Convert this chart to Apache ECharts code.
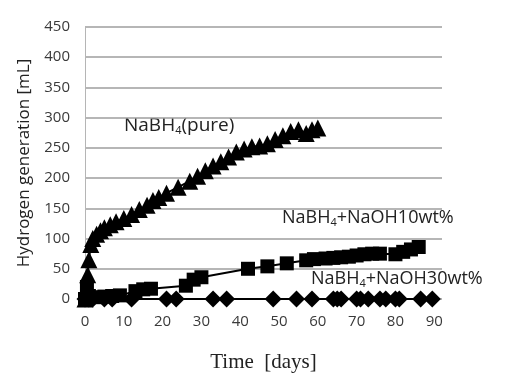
<!DOCTYPE html>
<html>
<head>
<meta charset="utf-8">
<script src="https://cdn.jsdelivr.net/npm/echarts@6/dist/echarts.min.js"></script>
<style>
  html, body { margin: 0; padding: 0; background: #fff; }
  #chart { width: 505px; height: 378px; }
</style>
</head>
<body>
<div id="chart"></div>
<script>
// Hydrogen released from stored NaBH4 samples over time
const pureDays = [0, 0.3, 0.7, 1, 1.5, 2, 3, 4, 5, 6.5, 8, 10, 12, 14, 16, 17.5, 19, 21, 24, 27, 29, 31, 33, 35, 37, 39, 41, 43, 45, 47, 49, 51, 53, 55, 57, 58.5, 60];
const pureMl   = [0, 15, 40, 65, 90, 100, 107, 113, 118, 123, 128, 133, 140, 148, 155, 163, 168, 175, 185, 195, 203, 212, 220, 227, 235, 243, 248, 252, 253, 257, 264, 270, 277, 280, 274, 280, 283];

const naoh10Days = [0, 0.5, 1, 3, 5, 7, 9, 13, 15, 17, 26, 28, 30, 42, 47, 52, 57, 59, 62, 64, 66, 68, 70, 72, 74, 76, 80, 82, 84, 86];
const naoh10Ml   = [0, 20, 5, 3, 4, 5, 6, 13, 16, 17, 22, 32, 36, 50, 54, 59, 64, 66, 67, 68, 69, 70, 72, 74, 75, 75, 74, 78, 82, 86];

const naoh30Days = [0, 1, 2, 5, 7, 12, 21, 23.5, 33, 36.5, 48.5, 54.5, 58.5, 64, 65, 66, 70, 71, 73, 76, 77.5, 80, 81, 86.5, 89.5];
const naoh30Ml   = [0, 0, 0, 0, 0, 0, 0, 0, 0, 0, 0, 0, 0, 0, 0, 0, 0, 0, 0, 0, 0, 0, 0, 0, 0];

const xTicks = { min: 0, max: 92, interval: 10, lastLabel: 90 };
const yTicks = { min: 0, max: 450, interval: 50 };

const zip = (xs, ys) => xs.map((x, i) => [x, ys[i]]);

const chart = echarts.init(document.getElementById('chart'), null, { renderer: 'canvas' });

const labelFont = '"Open Sans", Lato, sans-serif';
const serifFont = '"Liberation Serif", "DejaVu Serif", serif';

function lineSeries(name, data, symbol, size) {
  return {
    name, type: 'line', data, symbol, symbolSize: size,
    lineStyle: { color: '#000', width: 2 },
    itemStyle: { color: '#000' },
    showAllSymbol: true,
    animation: false
  };
}

function richLabel(head, tail, size) {
  return {
    text: '{m|' + head + '}{s|4}{m|' + tail + '}',
    rich: {
      m: { fontFamily: labelFont, fontSize: size, fill: '#222' },
      s: { fontFamily: labelFont, fontSize: Math.round(size * 0.6), fill: '#222', padding: [Math.round(size * 0.55), 0, 0, 0] }
    }
  };
}

chart.setOption({
  animation: false,
  grid: { left: 85, right: 63, top: 27, bottom: 75 },
  xAxis: {
    type: 'value',
    min: xTicks.min, max: xTicks.max, interval: xTicks.interval,
    axisLine: { show: false },
    axisTick: { show: false },
    splitLine: { show: false },
    axisLabel: {
      color: '#3a3a3a', fontFamily: labelFont, fontSize: 15, margin: 15,
      formatter: v => (v <= xTicks.lastLabel ? String(v) : '')
    },
    name: 'Time  [days]',
    nameLocation: 'middle',
    nameGap: 53,
    nameTextStyle: { fontFamily: serifFont, fontSize: 21, color: '#222' }
  },
  yAxis: {
    type: 'value',
    min: yTicks.min, max: yTicks.max, interval: yTicks.interval,
    axisLine: { show: true, lineStyle: { color: '#b5b5b5', width: 1 } },
    axisTick: { show: false },
    splitLine: { show: true, lineStyle: { color: '#9e9e9e', width: 1.5 } },
    axisLabel: { color: '#3a3a3a', fontFamily: labelFont, fontSize: 15, margin: 15 },
    name: 'Hydrogen generation [mL]',
    nameLocation: 'middle',
    nameGap: 52,
    nameTextStyle: { fontFamily: labelFont, fontSize: 17, color: '#222' }
  },
  series: [
    lineSeries('NaBH4(pure)', zip(pureDays, pureMl), 'triangle', 17),
    lineSeries('NaBH4+NaOH10wt%', zip(naoh10Days, naoh10Ml), 'rect', 14),
    lineSeries('NaBH4+NaOH30wt%', zip(naoh30Days, naoh30Ml), 'diamond', 17)
  ],
  graphic: [
    { type: 'text', left: 124, top: 116, style: richLabel('NaBH', '(pure)', 19) },
    { type: 'text', left: 282, top: 209, style: richLabel('NaBH', '+NaOH10wt%', 18) },
    { type: 'text', left: 311, top: 270, style: richLabel('NaBH', '+NaOH30wt%', 18) }
  ]
});
</script>
</body>
</html>
